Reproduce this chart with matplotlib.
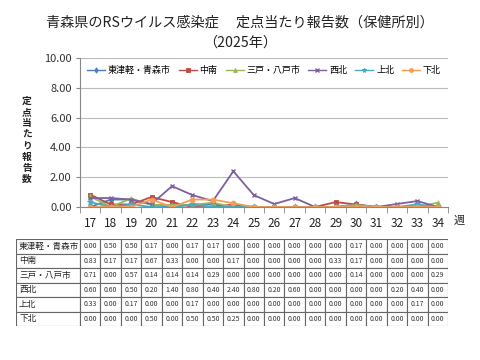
import matplotlib
matplotlib.use("Agg")
import matplotlib.pyplot as plt
from matplotlib.patches import Rectangle

plt.rcParams['font.family'] = ['Noto Sans CJK JP', 'DejaVu Sans']

weeks = list(range(17, 35))
week_labels = [str(w) for w in weeks]
regions = ["東津軽・青森市", "中南", "三戸・八戸市", "西北", "上北", "下北"]
higashi = [0.00, 0.50, 0.50, 0.17, 0.00, 0.17, 0.17, 0.00, 0.00, 0.00, 0.00, 0.00, 0.00, 0.17, 0.00, 0.00, 0.00, 0.00]
chunan = [0.83, 0.17, 0.17, 0.67, 0.33, 0.00, 0.00, 0.17, 0.00, 0.00, 0.00, 0.00, 0.33, 0.17, 0.00, 0.00, 0.00, 0.00]
sannohe = [0.71, 0.00, 0.57, 0.14, 0.14, 0.14, 0.29, 0.00, 0.00, 0.00, 0.00, 0.00, 0.00, 0.14, 0.00, 0.00, 0.00, 0.29]
seihoku = [0.60, 0.60, 0.50, 0.20, 1.40, 0.80, 0.40, 2.40, 0.80, 0.20, 0.60, 0.00, 0.00, 0.00, 0.00, 0.20, 0.40, 0.00]
kamikita = [0.33, 0.00, 0.17, 0.00, 0.00, 0.17, 0.00, 0.00, 0.00, 0.00, 0.00, 0.00, 0.00, 0.00, 0.00, 0.00, 0.17, 0.00]
shimokita = [0.00, 0.00, 0.00, 0.50, 0.00, 0.50, 0.50, 0.25, 0.00, 0.00, 0.00, 0.00, 0.00, 0.00, 0.00, 0.00, 0.00, 0.00]
series = [higashi, chunan, sannohe, seihoku, kamikita, shimokita]
colors = ["#4A7EBB", "#BE4B48", "#98B954", "#7D60A0", "#46AAC5", "#F59D56"]
markers = ["d", "s", "^", "x", "*", "o"]

W, H = 480, 360
fig = plt.figure(figsize=(4.8, 3.6), dpi=100)
fig.patch.set_facecolor("white")

def fx(px):
    return px / W

def fy(py):
    return 1 - py / H

# Title
fig.text(fx(240), fy(22), "青森県のRSウイルス感染症　 定点当たり報告数（保健所別）",
         ha="center", va="center", fontsize=10.2, color="#222222")
fig.text(fx(240), fy(43), "（2025年）", ha="center", va="center", fontsize=10.2, color="#222222")

# Plot axes
L, R, T, B = 80, 448, 58, 207
ax = fig.add_axes([fx(L), fy(B), fx(R - L), (B - T) / H])
x = list(range(len(weeks)))
for s, name, c, m in zip(series, regions, colors, markers):
    ms = 3.5 if m != "*" else 4.5
    ax.plot(x, s, color=c, marker=m, markersize=ms, linewidth=1.3, label=name,
            markeredgewidth=1.0 if m in ("x",) else 0.6)
ax.set_xlim(-0.5, len(weeks) - 0.5)
ax.set_ylim(0, 10)
ax.set_yticks([0, 2, 4, 6, 8, 10])
ax.set_yticklabels(["0.00", "2.00", "4.00", "6.00", "8.00", "10.00"], fontsize=8, color="#333333")
ax.set_xticks(x)
ax.set_xticklabels(week_labels, fontsize=8.5, color="#222222")
ax.tick_params(axis="x", length=0, pad=7)
ax.tick_params(axis="y", length=3, color="#888888", pad=3)
ax.grid(axis="y", color="#BBBBBB", linewidth=0.8)
ax.set_axisbelow(True)
for sp in ["top", "right"]:
    ax.spines[sp].set_visible(False)
ax.spines["left"].set_color("#888888")
ax.spines["bottom"].set_color("#888888")
ax.set_xticks([i - 0.5 for i in range(len(weeks) + 1)], minor=True)
ax.tick_params(axis="x", which="minor", length=4, color="#888888")
leg = ax.legend(loc="upper center", ncol=6, frameon=False, fontsize=6.5,
                bbox_to_anchor=(0.5, 0.99), handlelength=2.0, handletextpad=0.3,
                columnspacing=0.9, borderaxespad=0.3, markerscale=0.8)
for h in leg.legend_handles:
    h.set_linewidth(1.0)

fig.text(fx(459), fy(221), "週", ha="center", va="center", fontsize=8, color="#222222")

# Vertical y label
fig.text(fx(27), fy(140), "\n".join("定点当たり報告数"), ha="center", va="center",
         fontsize=7, fontweight="bold", linespacing=1.15, color="#222222")

# Table
TL, TR, TT, TB = 16, 448, 239, 326
tax = fig.add_axes([fx(TL), fy(TB), fx(TR - TL), (TB - TT) / H])
colw = (R - L) / len(weeks)
label_w = (L - TL) / colw
tax.set_xlim(-0.5 - label_w, len(weeks) - 0.5)
tax.set_ylim(len(regions), 0)
tax.axis("off")
for r, (name, s) in enumerate(zip(regions, series)):
    tax.add_patch(Rectangle((-0.5 - label_w, r), label_w, 1, facecolor="white",
                            edgecolor="#666666", linewidth=0.8))
    tax.text(-0.5 - label_w + 0.15, r + 0.5, name, ha="left", va="center", fontsize=6.2, color="#222222")
    for i, v in enumerate(s):
        tax.add_patch(Rectangle((i - 0.5, r), 1, 1, facecolor="white",
                                edgecolor="#666666", linewidth=0.8))
        tax.text(i, r + 0.5, f"{v:.2f}", ha="center", va="center", fontsize=5, color="#333333")

fig.savefig("out.png", dpi=100)
